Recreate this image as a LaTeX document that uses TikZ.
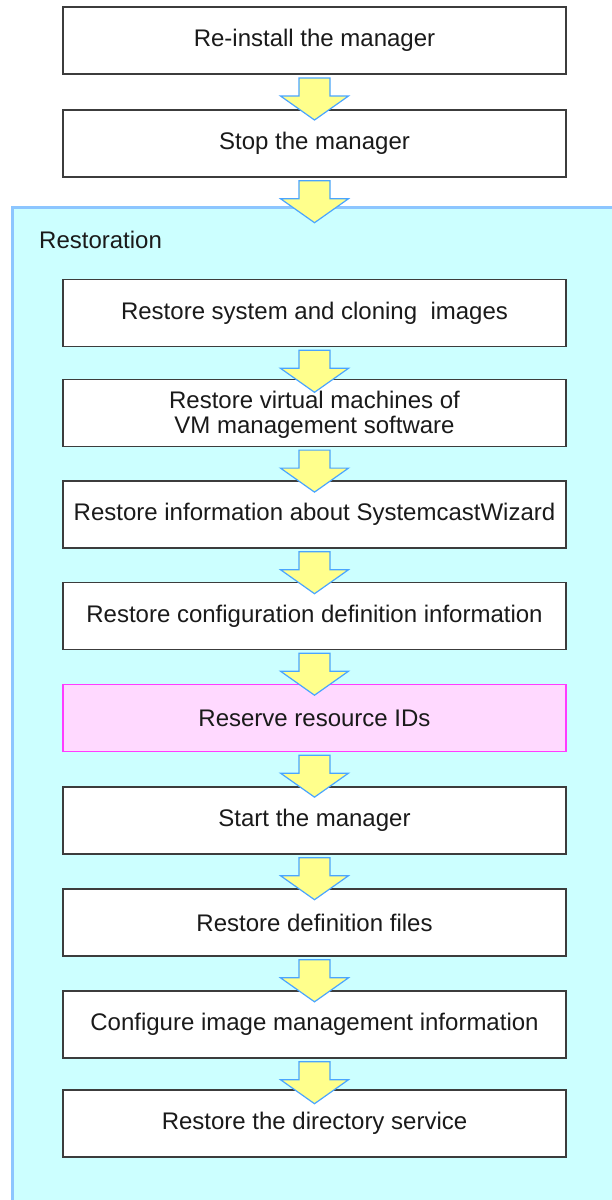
\documentclass[tikz,border=0pt]{standalone}
\usepackage{fontspec}
\setmainfont{Liberation Sans}
\usetikzlibrary{calc}
\definecolor{cyanbg}{HTML}{CCFFFF}
\definecolor{cyanedge}{HTML}{8CC6FF}
\definecolor{boxedge}{HTML}{3C3C3C}
\definecolor{pinkbg}{HTML}{FFD9FF}
\definecolor{pinkedge}{HTML}{FF3CFF}
\definecolor{arrowfill}{HTML}{FFFF8C}
\definecolor{arrowedge}{HTML}{4AA5FF}
\definecolor{txt}{HTML}{1A1A1A}
\tikzset{
  stepbox/.style={draw=boxedge, line width=1.6pt, fill=white, minimum width=503pt,
    minimum height=67pt, inner sep=0pt, align=center, text=txt,
    font=\fontsize{24}{25.5}\selectfont},
  pinkbox/.style={stepbox, draw=pinkedge, fill=pinkbg, line width=1.3pt},
  container/.style={draw=cyanedge, fill=cyanbg, line width=3pt, inner sep=0pt,
    minimum width=640pt, minimum height=1020pt, anchor=north west},
  labeltext/.style={text=txt, font=\fontsize{24}{27}\selectfont, inner sep=0pt, anchor=west},
  fatarrow/.style={draw=arrowedge, fill=arrowfill, line width=1.2pt, line join=miter}
}
\newcommand{\flowarrow}[1]{%
  \draw[fatarrow]
    ([shift={(-15.5,3)}]#1.south) -- ([shift={(15.5,3)}]#1.south)
    -- ([shift={(15.5,21)}]#1.south) -- ([shift={(34,21)}]#1.south)
    -- ([shift={(0,45)}]#1.south) -- ([shift={(-34,21)}]#1.south)
    -- ([shift={(-15.5,21)}]#1.south) -- cycle;}
\begin{document}
\begin{tikzpicture}[x=1pt,y=-1pt]
\useasboundingbox (0,0) rectangle (611,1200);
\node[container] (cont) at (10.5,205.5) {};
\node[labeltext] (lbl) at (39,240) {Restoration};
\node[stepbox] (b1) at (314.5,40.7) {Re-install the manager};
\node[stepbox] (b2) at (314.5,143.4) {Stop the manager};
\node[stepbox] (b3) at (314.5,313) {Restore system and cloning\ \ images};
\node[stepbox] (b4) at (314.5,412.8) {};
\node[text=txt, align=center, inner sep=0pt, font=\fontsize{24}{25.5}\selectfont] (b4t) at (314.5,415) {Restore virtual machines of\\VM management software};
\node[stepbox] (b5) at (314.5,514.4) {Restore information about SystemcastWizard};
\node[stepbox] (b6) at (314.5,615.9) {Restore configuration definition information};
\node[pinkbox] (b7) at (314.5,718) {Reserve resource IDs};
\node[stepbox] (b8) at (314.5,820.4) {Start the manager};
\node[stepbox] (b9) at (314.5,922.5) {Restore definition files};
\node[stepbox] (b10) at (314.5,1024.4) {Configure image management information};
\node[stepbox] (b11) at (314.5,1123.5) {Restore the directory service};
\foreach \n in {b1,b2,b3,b4,b5,b6,b7,b8,b9,b10}{\flowarrow{\n}}
\end{tikzpicture}
\end{document}
